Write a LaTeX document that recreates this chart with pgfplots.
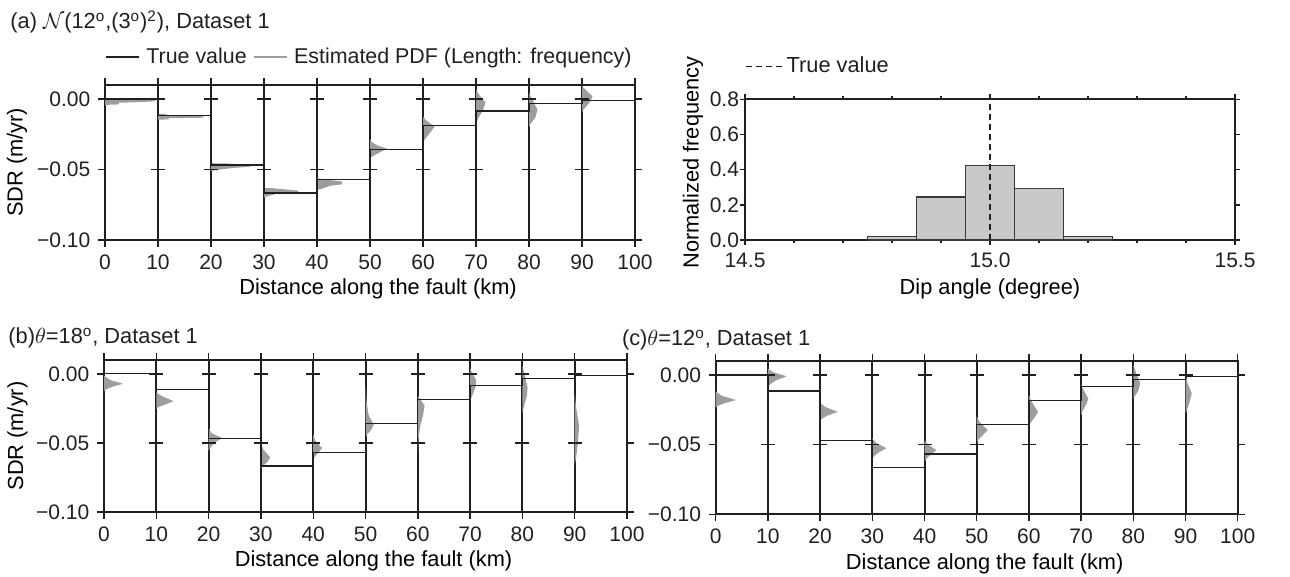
\documentclass[border=0pt]{standalone}
\usepackage{fontspec}
\setmainfont{Liberation Sans}
\usepackage{pgfplots}
\pgfplotsset{compat=1.18}

\definecolor{ink}{HTML}{231F20}
\definecolor{pdfgray}{HTML}{9C9DA0}
\definecolor{histfill}{HTML}{C8C9CB}
\definecolor{histedge}{HTML}{3A3A3A}

\pgfplotsset{
  gmt/.style={
    scale only axis,
    tick align=outside,
    major tick length=3.5pt,
    minor tick length=1.5pt,
    axis line style={ink, line width=1pt},
    tick style={ink, line width=0.7pt},
    tick label style={font=\fontsize{10.5}{12}\selectfont, text=ink},
    label style={text=ink},
    every axis x label/.style={at={(axis description cs:0.5,0)}, anchor=base, yshift=-27.5pt},
  },
  sdr/.style={
    gmt,
    xmin=0, xmax=100, ymin=-0.10, ymax=0.01,
    xtick={0,10,...,100},
    xticklabels={0,10,20,30,40,50,60,70,80,90,100},
    ytick={-0.1,-0.05,0},
    yticklabels={−0.10,−0.05,0.00},
    xmajorgrids, major grid style={ink, line width=1pt},
    xlabel={Distance along the fault (km)},
    every axis x label/.append style={xshift=4pt},
  },
  pdf/.style={fill=pdfgray, draw=none, forget plot},
  truth/.style={ink, line width=0.6pt, const plot, forget plot},
  cross/.style={only marks, mark=-, mark size=3.5pt, mark options={ink, line width=0.7pt}, forget plot},
}

\begin{document}
\fontsize{10.9pt}{13pt}\selectfont
\begin{tikzpicture}
\path[use as bounding box] (0,0) rectangle (645pt,288.5pt);

\node[anchor=base west, text=ink, inner sep=0pt] at (5pt,274pt)
  {(a) $\mathcal{N}$(12\textsuperscript{o},(3\textsuperscript{o})\textsuperscript{2}), Dataset 1};
\node[anchor=base west, text=ink, inner sep=0pt] at (4pt,116.5pt)
  {(b)$\theta$=18\textsuperscript{o}, Dataset 1};
\node[anchor=base west, text=ink, inner sep=0pt] at (310.8pt,115.5pt)
  {(c)$\theta$=12\textsuperscript{o}, Dataset 1};

% ---------------- (a) ----------------
\begin{axis}[sdr,
  at={(52.5pt,168.5pt)}, anchor=south west,
  width=265pt, height=77.5pt,
  ylabel={SDR (m/yr)},
  every axis y label/.style={at={(axis description cs:-0.166,0.5)}, rotate=90, anchor=center},
  legend columns=2,
  legend style={draw=none, fill=none, at={(axis description cs:0,1)}, anchor=west,
    yshift=14pt, inner sep=0pt, font=\fontsize{10.7}{12}\selectfont,
    nodes={inner xsep=3pt, inner ysep=1pt}, text=ink},
  legend image code/.code={\draw[#1] (0pt,0pt) -- (16.5pt,0pt);},
]
\addlegendimage{ink, line width=1pt}
\addlegendentry{True value}
\addlegendimage{pdfgray, line width=1.2pt}
\addlegendentry{Estimated PDF (Length: frequency)}

\addplot[pdf] coordinates {(0,-0.0005) (9.5,-0.0006) (9.5,-0.0016) (6,-0.0022) (2.6,-0.0026) (2.6,-0.0038) (0.8,-0.0040) (0,-0.0045)};
\addplot[pdf] coordinates {(10,-0.0104) (11.6,-0.0105) (11.6,-0.0118) (18.6,-0.0122) (18.6,-0.0132) (12,-0.0136) (12,-0.0144) (10,-0.0146)};
\addplot[pdf] coordinates {(20,-0.0455) (23,-0.0457) (27.4,-0.0470) (27.4,-0.0480) (24.5,-0.0488) (22,-0.0498) (20.8,-0.0505) (20,-0.0510)};
\addplot[pdf] coordinates {(30,-0.0630) (31.5,-0.0632) (36.5,-0.0650) (36.5,-0.0660) (33,-0.0668) (31,-0.0685) (30,-0.0698)};
\addplot[pdf] coordinates {(40,-0.0562) (41.5,-0.0570) (44.7,-0.0585) (44.7,-0.0605) (42.5,-0.0615) (41,-0.0635) (40,-0.0645)};
\addplot[pdf] coordinates {(50,-0.0285) (50.5,-0.0310) (51.5,-0.0330) (53.2,-0.0352) (52,-0.0375) (51,-0.0395) (50.3,-0.0410) (50,-0.0425)};
\addplot[pdf] coordinates {(60,-0.0125) (60.7,-0.0155) (62.2,-0.0195) (61.6,-0.0225) (60.7,-0.0270) (60,-0.0305)};
\addplot[pdf] coordinates {(70,0.0068) (70.6,0.0030) (71.8,-0.0025) (71.3,-0.0080) (70.5,-0.0130) (70,-0.0175)};
\addplot[pdf] coordinates {(80,0.0045) (80.5,0.0005) (81.6,-0.0075) (81.2,-0.0130) (80.4,-0.0170) (80,-0.0198)};
\addplot[pdf] coordinates {(90,0.0093) (90.8,0.0062) (92,0.0018) (91.4,-0.0025) (90.5,-0.0065) (90,-0.0092)};

\addplot[truth] coordinates {(0,0) (10,-0.0115) (20,-0.0468) (30,-0.0667) (40,-0.0568) (50,-0.0358) (60,-0.0185) (70,-0.0084) (80,-0.0032) (90,-0.0012) (100,-0.0012)};
\addplot[cross] coordinates {(10,0) (20,0) (30,0) (40,0) (50,0) (60,0) (70,0) (80,0) (90,0)
  (10,-0.05) (20,-0.05) (30,-0.05) (40,-0.05) (50,-0.05) (60,-0.05) (70,-0.05) (80,-0.05) (90,-0.05)};
\end{axis}

% ---------------- histogram ----------------
\begin{axis}[gmt,
  at={(372.5pt,168.5pt)}, anchor=south west,
  width=245pt, height=70.35pt,
  xmin=14.5, xmax=15.5, ymin=0, ymax=0.8,
  major tick length=2.5pt,
  xtick={14.5,15,15.5}, xticklabels={14.5,15.0,15.5},
  minor xtick={14.6,14.7,14.8,14.9,15.1,15.2,15.3,15.4},
  ytick={0,0.2,0.4,0.6,0.8}, yticklabels={0.0,0.2,0.4,0.6,0.8},
  yticklabel style={inner xsep=0.3pt},
  xlabel={Dip angle (degree)},
  ylabel={Normalized frequency},
  every axis y label/.style={at={(axis description cs:-0.106,0.55)}, rotate=90, anchor=center},
  clip=false,
  legend style={draw=none, fill=none, at={(axis description cs:0,1)}, anchor=west,
    yshift=16.5pt, inner sep=0pt, nodes={inner xsep=1pt, inner ysep=1pt}, text=ink},
  legend image code/.code={\draw[#1] (0pt,0pt) -- (19pt,0pt);},
]
\addplot[ybar, bar width=0.1, fill=histfill, draw=histedge, line width=0.6pt, forget plot]
  coordinates {(14.8,0.019) (14.9,0.245) (15.0,0.425) (15.1,0.294) (15.2,0.021)};
\addplot[ink, line width=0.6pt, dash pattern=on 3pt off 2pt] coordinates {(15,0) (15,0.84)};
\addlegendentry{True value}
\end{axis}

% ---------------- (b) ----------------
\begin{axis}[sdr,
  at={(52pt,32.5pt)}, anchor=south west,
  width=261.5pt, height=76pt,
  ylabel={SDR (m/yr)},
  every axis y label/.style={at={(axis description cs:-0.1654,0.5)}, rotate=90, anchor=center},
]
\addplot[pdf] coordinates {(0,-0.0015) (1.2,-0.0045) (3.6,-0.0072) (1.5,-0.0095) (0.5,-0.0110) (0,-0.0125)};
\addplot[pdf] coordinates {(10,-0.0135) (11,-0.0160) (13.3,-0.0198) (11.5,-0.0225) (10.4,-0.0240) (10,-0.0255)};
\addplot[pdf] coordinates {(20,-0.0390) (20.6,-0.0430) (22.6,-0.0465) (21.5,-0.0490) (20.6,-0.0520) (20,-0.0560)};
\addplot[pdf] coordinates {(30,-0.0500) (30.5,-0.0550) (31.8,-0.0605) (31.2,-0.0640) (30.4,-0.0665) (30,-0.0680)};
\addplot[pdf] coordinates {(40,-0.0440) (40.5,-0.0490) (41.7,-0.0536) (41,-0.0570) (40.3,-0.0600) (40,-0.0620)};
\addplot[pdf] coordinates {(50,-0.0080) (50.2,-0.0200) (50.6,-0.0300) (51.6,-0.0370) (51,-0.0410) (50.3,-0.0440) (50,-0.0460)};
\addplot[pdf] coordinates {(60,-0.0160) (60.6,-0.0190) (61.3,-0.0230) (61,-0.0300) (60.5,-0.0370) (60.2,-0.0450) (60,-0.0580)};
\addplot[pdf] coordinates {(70,0.0040) (70.5,0.0000) (71.2,-0.0050) (71,-0.0100) (70.5,-0.0150) (70,-0.0190)};
\addplot[pdf] coordinates {(80,0.0060) (80.4,0.0000) (81,-0.0100) (80.8,-0.0170) (80.4,-0.0220) (80,-0.0280)};
\addplot[pdf] coordinates {(90,-0.0150) (90.3,-0.0250) (90.85,-0.0380) (90.6,-0.0500) (90.3,-0.0600) (90,-0.0660)};

\addplot[truth] coordinates {(0,0) (10,-0.0115) (20,-0.0468) (30,-0.0667) (40,-0.0568) (50,-0.0358) (60,-0.0185) (70,-0.0084) (80,-0.0032) (90,-0.0012) (100,-0.0012)};
\addplot[cross] coordinates {(10,0) (20,0) (30,0) (40,0) (50,0) (60,0) (70,0) (80,0) (90,0)
  (10,-0.05) (20,-0.05) (30,-0.05) (40,-0.05) (50,-0.05) (60,-0.05) (70,-0.05) (80,-0.05) (90,-0.05)};
\end{axis}

% ---------------- (c) ----------------
\begin{axis}[sdr,
  at={(357.85pt,31.35pt)}, anchor=south west,
  width=261pt, height=76.65pt,
]
\addplot[pdf] coordinates {(0,-0.0120) (1.2,-0.0150) (3.9,-0.0180) (1.5,-0.0205) (0.5,-0.0220) (0,-0.0235)};
\addplot[pdf] coordinates {(10,0.0045) (11,0.0020) (13.6,-0.0010) (11.5,-0.0040) (10.5,-0.0065) (10,-0.0085)};
\addplot[pdf] coordinates {(20,-0.0200) (21,-0.0230) (23.4,-0.0265) (21.5,-0.0290) (20.5,-0.0310) (20,-0.0325)};
\addplot[pdf] coordinates {(30,-0.0455) (30.8,-0.0490) (32.7,-0.0525) (31.3,-0.0555) (30.4,-0.0580) (30,-0.0600)};
\addplot[pdf] coordinates {(40,-0.0470) (40.7,-0.0500) (42.3,-0.0540) (41.2,-0.0570) (40.4,-0.0600) (40,-0.0625)};
\addplot[pdf] coordinates {(50,-0.0300) (50.6,-0.0340) (52.1,-0.0396) (51.2,-0.0430) (50.4,-0.0460) (50,-0.0490)};
\addplot[pdf] coordinates {(60,-0.0145) (60.5,-0.0190) (61.75,-0.0265) (61,-0.0310) (60.4,-0.0340) (60,-0.0360)};
\addplot[pdf] coordinates {(70,-0.0072) (70.5,-0.0110) (71.4,-0.0170) (71,-0.0210) (70.4,-0.0250) (70,-0.0290)};
\addplot[pdf] coordinates {(80,0.0072) (80.5,0.0020) (81.3,-0.0060) (81,-0.0110) (80.5,-0.0140) (80,-0.0168)};
\addplot[pdf] coordinates {(90,0.0000) (90.4,-0.0060) (91.2,-0.0132) (90.8,-0.0190) (90.4,-0.0240) (90,-0.0276)};

\addplot[truth] coordinates {(0,0) (10,-0.0115) (20,-0.0468) (30,-0.0667) (40,-0.0568) (50,-0.0358) (60,-0.0185) (70,-0.0084) (80,-0.0032) (90,-0.0012) (100,-0.0012)};
\addplot[cross] coordinates {(10,0) (20,0) (30,0) (40,0) (50,0) (60,0) (70,0) (80,0) (90,0)
  (10,-0.05) (20,-0.05) (30,-0.05) (40,-0.05) (50,-0.05) (60,-0.05) (70,-0.05) (80,-0.05) (90,-0.05)};
\end{axis}
\end{tikzpicture}
\end{document}
